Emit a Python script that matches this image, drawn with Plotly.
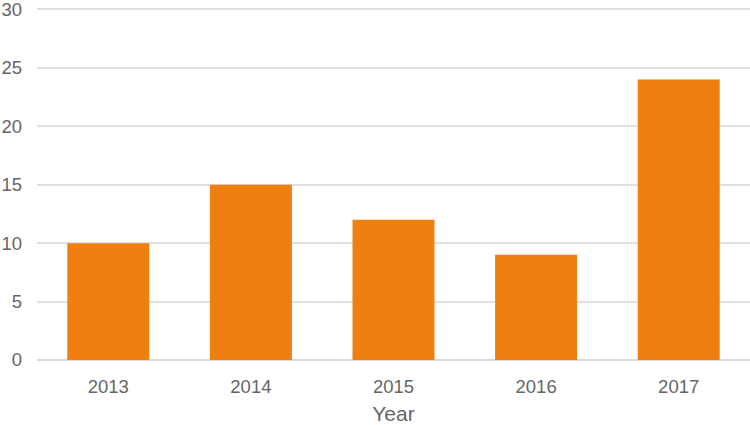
import plotly.graph_objects as go

years = ["2013", "2014", "2015", "2016", "2017"]
values = [10, 15, 12, 9, 24]

fig = go.Figure()
fig.add_trace(go.Bar(x=years, y=values, marker=dict(color="#ef7f0e", line=dict(width=0)), showlegend=False))

fig.update_layout(
    width=750, height=425,
    margin=dict(l=37, r=0, t=8, b=65),
    plot_bgcolor="white", paper_bgcolor="white",
    bargap=0.425,
    font=dict(family="Liberation Sans, Arial, sans-serif", size=18.5, color="#666666"),
)
fig.update_xaxes(
    title=dict(text="Year", font=dict(size=21, color="#666666"), standoff=15),
    showgrid=False, showline=False, zeroline=False,
    ticks="", ticklabelstandoff=13, automargin=False,
)
fig.update_yaxes(
    range=[0, 30.12], dtick=5, tick0=0,
    showgrid=True, gridcolor="#e0e0e0", gridwidth=1.5,
    zeroline=True, zerolinecolor="#d9d9d9", zerolinewidth=1.5,
    showline=False, ticks="", ticklabelstandoff=14, automargin=False,
    ticklabeloverflow="allow",
)
# drop the default 8px body margin so the figure sits at the window corner
fig.write_html("out.html", config={"displayModeBar": False},
               post_script="document.body.style.margin='0';")
